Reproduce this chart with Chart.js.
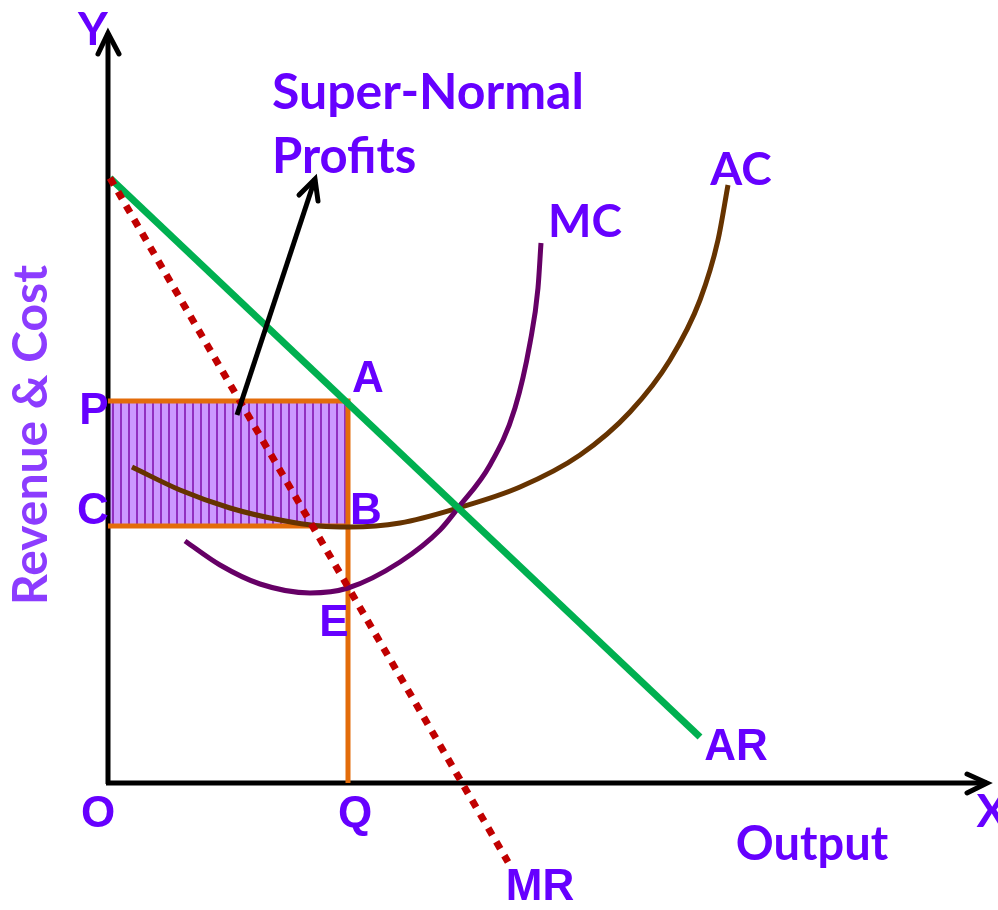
<!DOCTYPE html>
<html>
<head>
<meta charset="utf-8">
<title>Super-Normal Profits</title>
<script src="https://cdn.jsdelivr.net/npm/chart.js@4.4.1/dist/chart.umd.min.js"></script>
<style>
  body { margin: 0; background: #fff; }
  #wrap { width: 998px; height: 910px; position: relative; }
</style>
</head>
<body>
<div id="wrap"><canvas id="chart"></canvas></div>
<script>
// quantities on x (output), values on y (revenue & cost)
const priceP = 382;
const costC = 257;
const outputQ = 240;

const arLine = [[2, 605], [592, 46]];
const mrLine = [[2, 605], [400, -79]];
const acCurve = [[24, 316], [72, 293], [122, 275], [172, 263], [212, 257], [242, 256], [292, 260],
  [350, 275], [412, 296], [472, 328], [522, 371], [562, 423], [592, 483], [610, 543], [620, 598]];
const mcCurve = [[77, 242], [112, 218], [152, 199], [202, 190], [240, 195], [292, 221], [332, 253],
  [350, 275], [382, 318], [407, 375], [422, 440], [430, 495], [433, 540]];

const xAxisEnd = 879;
const yAxisEnd = 750;
const pointerLine = [[129, 368], [207, 604]];
const pointerHead = [[191, 588], [207, 604], [210, 582]];

const purple = '#6600ff';

function pts(arr) {
  return arr.map(p => ({ x: p[0], y: p[1] }));
}

// striped fill for the profit rectangle
function stripes() {
  let c = document.createElement('canvas');
  c.width = 8; c.height = 8;
  let g = c.getContext('2d');
  g.fillStyle = '#cc99ff';
  g.fillRect(0, 0, 8, 8);
  g.fillStyle = '#9230c0';
  g.fillRect(0, 0, 2, 8);
  return g.createPattern(c, 'repeat');
}

const labels = [
  { t: 'Y', x: -15, y: 753, f: 'bold 46px Lato' },
  { t: 'X', x: 884, y: -29, f: 'bold 46px Lato' },
  { t: 'O', x: -10, y: -32, f: 'bold 44px "Liberation Sans"' },
  { t: 'Q', x: 247, y: -32, f: 'bold 44px "Liberation Sans"' },
  { t: 'P', x: -14, y: 371, f: 'bold 44px "Liberation Sans"' },
  { t: 'C', x: -15, y: 271, f: 'bold 44px "Liberation Sans"' },
  { t: 'A', x: 260, y: 403, f: 'bold 44px "Liberation Sans"' },
  { t: 'B', x: 258, y: 271, f: 'bold 44px "Liberation Sans"' },
  { t: 'E', x: 226, y: 159, f: 'bold 44px "Liberation Sans"' },
  { t: 'AR', x: 628, y: 35, f: 'bold 44px "Liberation Sans"' },
  { t: 'MR', x: 432, y: -105, f: 'bold 44px "Liberation Sans"' },
  { t: 'MC', x: 477, y: 561, f: 'bold 46px Lato' },
  { t: 'AC', x: 633, y: 613, f: 'bold 46px Lato' },
  { t: 'Output', x: 704, y: -62, f: 'bold 47px Lato' },
  { t: 'Super-Normal', x: 164, y: 690, f: 'bold 50px Lato', a: 'left' },
  { t: 'Profits', x: 164, y: 626, f: 'bold 49px Lato', a: 'left' }
];

const textPlugin = {
  id: 'texts',
  afterDatasetsDraw(chart) {
    let ctx = chart.ctx;
    let sx = chart.scales.x, sy = chart.scales.y;
    ctx.save();
    ctx.textBaseline = 'middle';
    ctx.fillStyle = purple;
    labels.forEach(l => {
      ctx.font = l.f;
      ctx.textAlign = l.a || 'center';
      ctx.fillText(l.t, sx.getPixelForValue(l.x), sy.getPixelForValue(l.y));
    });
    // y axis title
    ctx.textAlign = 'center';
    ctx.translate(sx.getPixelForValue(-76), sy.getPixelForValue(348));
    ctx.rotate(-Math.PI / 2);
    ctx.font = 'bold 48px Lato';
    ctx.fillStyle = '#8c3cff';
    ctx.fillText('Revenue & Cost', 0, 0);
    ctx.restore();
  }
};

function line(data, color, width, order, extra) {
  return Object.assign({
    data: pts(data),
    borderColor: color,
    borderWidth: width,
    pointRadius: 0,
    tension: 0,
    fill: false,
    order: order
  }, extra || {});
}

const ctx = document.getElementById('chart');

new Chart(ctx, {
  type: 'line',
  data: {
    datasets: [
      line([[0, priceP], [outputQ, priceP]], 'rgba(0,0,0,0)', 0, 20,
        { backgroundColor: stripes(), fill: { value: costC } }),
      line([[-2, 0], [xAxisEnd, 0]], '#000', 5, 15),
      line([[0, -1], [0, yAxisEnd]], '#000', 5, 15),
      line([[xAxisEnd - 20, 9], [xAxisEnd, 0], [xAxisEnd - 20, -10]], '#000', 5, 15,
        { borderJoinStyle: 'miter', borderCapStyle: 'round' }),
      line([[-10, yAxisEnd - 21], [0, yAxisEnd], [11, yAxisEnd - 21]], '#000', 5, 15,
        { borderJoinStyle: 'miter', borderCapStyle: 'round' }),
      line([[0, priceP], [outputQ, priceP], [outputQ, 0]], '#e36c0a', 5, 10),
      line([[0, costC], [outputQ, costC]], '#e36c0a', 5, 10),
      line(acCurve, '#663300', 5, 8, { cubicInterpolationMode: 'monotone' }),
      line(mcCurve, '#660066', 5, 7, { cubicInterpolationMode: 'monotone' }),
      line(arLine, '#00b050', 7, 6),
      line(mrLine, '#c00000', 7, 5, { borderDash: [8, 8] }),
      line(pointerLine, '#000', 5, 2),
      line(pointerHead, '#000', 5, 2, { borderCapStyle: 'round', borderJoinStyle: 'miter' })
    ]
  },
  options: {
    responsive: true,
    maintainAspectRatio: false,
    animation: false,
    layout: { padding: 0 },
    plugins: { legend: { display: false }, tooltip: { enabled: false } },
    scales: {
      x: { type: 'linear', min: -108, max: 890, display: false },
      y: { type: 'linear', min: -127, max: 783, display: false }
    }
  },
  plugins: [textPlugin]
});
</script>
</body>
</html>
